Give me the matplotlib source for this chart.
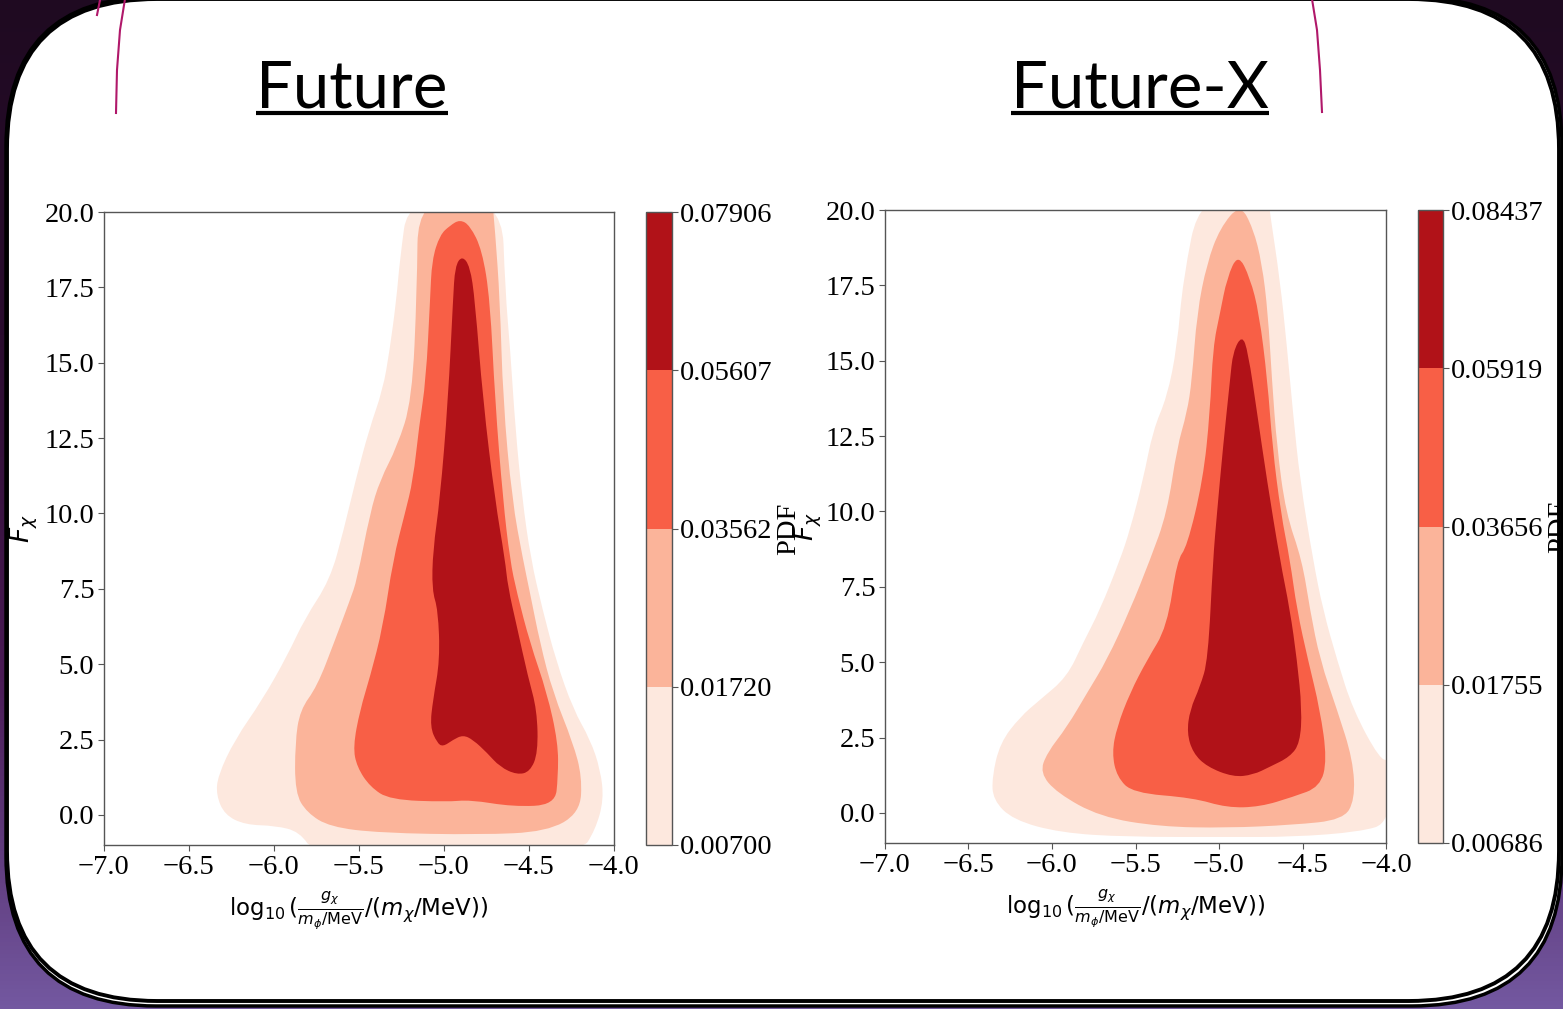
import numpy as np
import matplotlib.pyplot as plt
from matplotlib.colors import ListedColormap, BoundaryNorm, LinearSegmentedColormap
from matplotlib.cm import ScalarMappable
from matplotlib.patches import FancyBboxPatch, PathPatch
from matplotlib.path import Path
from matplotlib.lines import Line2D

# ---- data (contour boundaries, outer -> inner) ----
titles = ["Future", "Future-X"]
colors = ["#fde8de", "#fbb49a", "#f85f46", "#b11218"]
levels_future = [0.00700, 0.01720, 0.03562, 0.05607, 0.07906]
levels_futurex = [0.00686, 0.01755, 0.03656, 0.05919, 0.08437]

# Future
f1_x = [-5.21, -5.26, -5.28, -5.32, -5.36, -5.44, -5.52, -5.59, -5.67, -5.82, -5.92, -6.07, -6.23, -6.33, -6.34,
        -6.29, -6.17, -5.99, -5.85, -5.76, -4.20, -4.11, -4.06, -4.08, -4.14, -4.24, -4.34, -4.42, -4.49, -4.54,
        -4.58, -4.61, -4.64, -4.66]
f1_y = [20.5, 18.4, 17.1, 15.4, 14.1, 12.8, 11.1, 9.45, 7.8, 6.5, 5.3, 3.8, 2.5, 1.3, 0.66,
        0.0, -0.33, -0.36, -0.56, -1.3, -1.3, -0.5, 0.5, 1.5, 2.5, 3.5, 5.1, 6.8, 8.5, 10.5,
        12.8, 15.4, 17.4, 20.5]
f2_x = [-5.153, -5.159, -5.188, -5.276, -5.376, -5.435, -5.512, -5.553, -5.641, -5.747, -5.847, -5.876, -5.876,
        -5.806, -5.671, -5.376, -4.788, -4.394, -4.20, -4.188, -4.241, -4.359, -4.435, -4.494, -4.535, -4.60,
        -4.653, -4.671, -4.70, -4.718]
f2_y = [20.5, 17.41, 13.76, 12.21, 11.11, 10.02, 7.79, 7.13, 5.80, 4.25, 3.48, 2.39, 0.73,
        0.07, -0.40, -0.60, -0.66, -0.56, 0.07, 1.26, 2.39, 4.05, 5.70, 7.36, 8.46, 10.45,
        13.76, 17.08, 19.4, 20.5]
f3_x = [-4.906, -4.965, -5.024, -5.071, -5.082, -5.106, -5.147, -5.182, -5.229, -5.30, -5.359, -5.435, -5.494,
        -5.535, -5.512, -5.435, -5.318, -4.982, -4.847, -4.594, -4.347, -4.329, -4.329, -4.394, -4.494, -4.571,
        -4.612, -4.653, -4.70, -4.729, -4.776, -4.847]
f3_y = [19.75, 19.55, 19.24, 18.41, 17.08, 14.43, 12.87, 11.11, 10.02, 8.46, 6.24, 4.58, 3.48,
        2.26, 1.59, 0.93, 0.50, 0.43, 0.50, 0.27, 0.33, 1.26, 2.39, 4.05, 5.70, 7.36,
        8.46, 10.45, 13.76, 17.08, 18.74, 19.55]
f4_x = [-4.894, -4.935, -4.947, -4.976, -5.024, -5.065, -5.071, -5.035, -5.024, -5.065, -5.082, -5.041, -5.006,
        -4.947, -4.888, -4.829, -4.747, -4.671, -4.571, -4.494, -4.447, -4.453, -4.506, -4.571, -4.624, -4.641,
        -4.70, -4.771, -4.818, -4.847]
f4_y = [18.55, 18.2, 17.08, 13.76, 10.45, 8.79, 7.46, 6.80, 5.14, 3.81, 2.92, 2.39, 2.26,
        2.49, 2.65, 2.49, 2.06, 1.59, 1.33, 1.43, 2.06, 3.48, 4.58, 6.24, 7.56, 8.46,
        10.45, 13.76, 17.08, 18.2]

# Future-X
x1_x = [-5.114, -5.216, -5.251, -5.311, -5.395, -5.455, -5.533, -5.593, -5.713, -5.814, -5.910, -6.072, -6.192,
        -6.311, -6.359, -6.353, -6.234, -5.952, -5.551, -4.952, -4.557, -4.156, -3.976, -3.976, -4.036, -4.198,
        -4.293, -4.377, -4.437, -4.515, -4.557, -4.593, -4.635, -4.695, -4.707]
x1_y = [20.5, 17.68, 15.46, 13.80, 12.70, 11.04, 9.39, 8.39, 6.73, 5.64, 4.51, 3.75, 3.18,
        2.32, 1.19, 0.43, -0.23, -0.66, -0.80, -0.80, -0.80, -0.63, -0.33, 1.76, 1.76, 3.42,
        5.07, 6.73, 8.39, 11.04, 13.27, 15.46, 17.68, 19.9, 20.5]
x2_x = [-4.874, -4.994, -5.072, -5.132, -5.162, -5.192, -5.251, -5.311, -5.413, -5.533, -5.671, -5.790, -5.910,
        -6.030, -6.072, -5.970, -5.713, -5.353, -4.952, -4.557, -4.257, -4.186, -4.198, -4.293, -4.395, -4.455,
        -4.503, -4.600, -4.653, -4.683, -4.707, -4.743, -4.796]
x2_y = [20.2, 19.4, 18.24, 16.58, 14.36, 13.27, 12.14, 9.95, 8.39, 6.73, 5.07, 3.98, 2.85,
        1.99, 1.33, 0.66, -0.13, -0.46, -0.50, -0.40, -0.23, 0.43, 1.76, 3.42, 5.07, 6.73,
        8.39, 9.95, 12.14, 14.36, 16.58, 18.24, 19.4]
x3_x = [-4.886, -4.952, -4.994, -5.036, -5.054, -5.096, -5.192, -5.251, -5.311, -5.431, -5.533, -5.611, -5.641,
        -5.611, -5.515, -5.156, -4.952, -4.754, -4.557, -4.395, -4.353, -4.395, -4.467, -4.533, -4.575, -4.630,
        -4.680, -4.710, -4.760, -4.814]
x3_y = [18.55, 17.75, 16.58, 15.46, 13.27, 11.04, 8.82, 8.39, 6.17, 5.07, 3.98, 2.85, 1.99,
        1.19, 0.66, 0.50, 0.17, 0.20, 0.53, 0.86, 1.76, 3.42, 5.07, 6.73, 8.39, 9.95,
        12.14, 14.36, 16.58, 17.75]
x4_x = [-4.862, -4.916, -4.934, -4.976, -5.012, -5.036, -5.066, -5.114, -5.174, -5.192, -5.156, -5.072, -4.916,
        -4.796, -4.695, -4.575, -4.515, -4.503, -4.533, -4.575, -4.635, -4.713, -4.772, -4.826]
x4_y = [15.85, 15.3, 14.36, 12.14, 9.95, 8.39, 5.07, 4.18, 3.42, 2.65, 1.99, 1.53, 1.19,
        1.26, 1.53, 1.86, 2.32, 3.42, 5.07, 6.73, 8.39, 11.04, 13.27, 15.3]

future = [(f1_x, f1_y), (f2_x, f2_y), (f3_x, f3_y), (f4_x, f4_y)]
futurex = [(x1_x, x1_y), (x2_x, x2_y), (x3_x, x3_y), (x4_x, x4_y)]

xticks = [-7.0, -6.5, -6.0, -5.5, -5.0, -4.5, -4.0]
yticks = [0.0, 2.5, 5.0, 7.5, 10.0, 12.5, 15.0, 17.5, 20.0]

SERIF = "Liberation Serif"
TICK_FS = 20.5
W, H = 1563, 1009

fig = plt.figure(figsize=(W / 100, H / 100), dpi=100)

# slide background and card
bg = fig.add_axes([0, 0, 1, 1])
bg.set_xlim(0, W)
bg.set_ylim(H, 0)
bg.axis("off")
grad = np.linspace(0, 1, 256).reshape(-1, 1)
bg_cmap = LinearSegmentedColormap.from_list("bg", ["#1f0a21", "#2a0c2e", "#4a1a55", "#7358a0"])
bg.imshow(grad, cmap=bg_cmap, extent=[0, W, H, 0], aspect="auto")
bg.add_patch(FancyBboxPatch((6, -3), 1556, 1009, boxstyle="round,pad=0,rounding_size=150",
                            fc="white", ec="black", lw=2.5))
bg.add_patch(FancyBboxPatch((7, -1), 1552, 1002, boxstyle="round,pad=0,rounding_size=150",
                            fc="white", ec="black", lw=2.8))
mag = "#b0186a"
bg.plot([125, 120, 117, 116], [-1, 30, 70, 113], color=mag, lw=1.5)
bg.plot([100, 97], [0, 15], color=mag, lw=1.5)
bg.plot([1312, 1317, 1320, 1322], [-1, 30, 70, 112], color=mag, lw=1.5)


def smooth_region(ax, xs, ys, color):
    # closed quadratic-bezier outline through the read boundary points
    pts = np.column_stack([xs, ys])
    mids = (pts + np.roll(pts, -1, axis=0)) / 2
    verts = [mids[-1]]
    codes = [Path.MOVETO]
    for p, m in zip(pts, mids):
        verts += [p, m]
        codes += [Path.CURVE3, Path.CURVE3]
    ax.add_patch(PathPatch(Path(verts, codes), fc=color, ec="none", lw=0))


def panel(rect, crect, regions, levels, title, tx, ylpad):
    ax = fig.add_axes(rect)
    for (xs, ys), c in zip(regions, colors):
        smooth_region(ax, xs, ys, c)
    ax.set_xlim(-7, -4)
    ax.set_ylim(-1, 20)
    ax.set_xticks(xticks)
    ax.set_yticks(yticks)
    ax.set_xticklabels([f"{v:.1f}".replace("-", "\u2212") for v in xticks])
    ax.set_yticklabels([f"{v:.1f}" for v in yticks])
    for lab in ax.get_xticklabels() + ax.get_yticklabels():
        lab.set_family(SERIF)
        lab.set_fontsize(TICK_FS)
    for s in ax.spines.values():
        s.set_color("#555555")
        s.set_linewidth(1)
    ax.tick_params(length=4, color="#555555", pad=3)
    ax.set_xlabel(r"$\log_{10}(\frac{g_{\chi}}{m_{\phi}/\mathrm{MeV}}/(m_{\chi}/\mathrm{MeV}))$",
                  fontsize=16.5, labelpad=7)
    ax.set_ylabel(r"$F_{\chi}$", fontsize=19, labelpad=ylpad)

    cax = fig.add_axes(crect)
    sm = ScalarMappable(norm=BoundaryNorm(levels, len(colors)), cmap=ListedColormap(colors))
    cb = fig.colorbar(sm, cax=cax, ticks=levels, format="%.5f")
    cb.outline.set_edgecolor("#555555")
    cb.outline.set_linewidth(1)
    cax.tick_params(length=4, color="#555555", pad=2)
    for lab in cax.get_yticklabels():
        lab.set_family(SERIF)
        lab.set_fontsize(TICK_FS)
    cb.set_label("PDF", family=SERIF, fontsize=TICK_FS, labelpad=2)

    t = fig.text(tx / W, 1 - 107 / H, title, ha="center", va="baseline",
                 family="Lato", fontsize=47)
    return t


t1 = panel([104 / W, 1 - 845 / H, 510 / W, 633 / H], [646 / W, 1 - 845 / H, 26 / W, 633 / H],
           future, levels_future, titles[0], 352, 3)
t2 = panel([885 / W, 1 - 843 / H, 501 / W, 633 / H], [1418 / W, 1 - 843 / H, 25 / W, 633 / H],
           futurex, levels_futurex, titles[1], 1140, 1)

# underline the titles
fig.canvas.draw()
r = fig.canvas.get_renderer()
for t in (t1, t2):
    bb = t.get_window_extent(r)
    yline = 1 - 113 / H
    fig.add_artist(Line2D([bb.x0 / W, bb.x1 / W], [yline, yline], color="black", lw=3,
                          solid_capstyle="butt"))

fig.savefig("out.png", dpi=100)
